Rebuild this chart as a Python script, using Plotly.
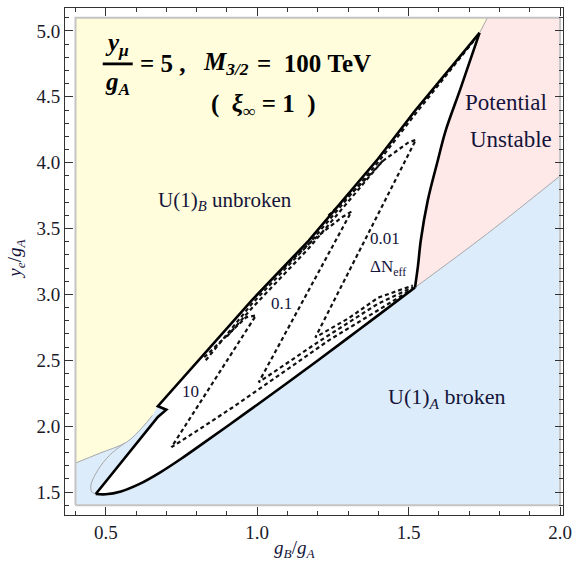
import plotly.graph_objects as go

# ---------------- data ----------------
region_x = [0.4, 2.0]
region_y = [1.4, 5.1]

# yellow / blue boundary (U(1)_B unbroken lower edge)
yb_x = [0.4, 0.48, 0.569, 0.621, 0.654]
yb_y = [1.72, 1.795, 1.879, 1.992, 2.083]

# upper boundary of allowed (white) region, from tip to top corner
up_x = [0.467, 0.672, 0.700, 0.672, 0.982, 1.170, 1.399, 1.521, 1.734]
up_y = [1.485, 2.070, 2.125, 2.152, 2.955, 3.409, 4.030, 4.394, 4.985]

# right boundary (potential unstable), top corner -> lower corner
rt_x = [1.734, 1.672, 1.622, 1.596, 1.563, 1.540, 1.531, 1.521]
rt_y = [4.985, 4.568, 4.242, 4.015, 3.712, 3.409, 3.220, 3.053]

# lower boundary, lower corner -> tip
lo_x = [1.521, 1.400, 1.300, 1.200, 1.100, 1.000, 0.900, 0.820, 0.750, 0.680, 0.610, 0.550, 0.500, 0.467]
lo_y = [3.053, 2.843, 2.670, 2.499, 2.330, 2.163, 1.998, 1.868, 1.755, 1.650, 1.560, 1.505, 1.483, 1.485]

# pink / blue boundary
pb_x = [1.521, 1.76, 2.0]
pb_y = [3.053, 3.462, 3.90]

# yellow / pink boundary
yp_x = [1.734, 1.76]
yp_y = [4.985, 5.10]

# thin gray loop
gl_x = [0.562, 0.513, 0.474, 0.451, 0.454, 0.467]
gl_y = [1.871, 1.780, 1.667, 1.553, 1.500, 1.485]

# Delta N_eff contours (dashed)
c10_x = [0.825, 0.900, 0.963, 0.996, 0.717, 0.808, 0.917, 1.071, 1.235, 1.399, 1.511]
c10_y = [2.523, 2.689, 2.826, 2.841, 1.841, 1.975, 2.140, 2.385, 2.650, 2.880, 3.040]

c01_x = [1.071, 1.186, 1.278, 1.311, 1.005, 1.202, 1.399, 1.514]
c01_y = [3.167, 3.417, 3.583, 3.629, 2.333, 2.640, 2.930, 3.055]

c001_x = [1.235, 1.334, 1.416, 1.498, 1.524, 1.192, 1.301, 1.399, 1.514]
c001_y = [3.598, 3.818, 4.015, 4.152, 4.174, 2.674, 2.818, 2.975, 3.068]

# crowded contours hugging the upper boundary
hug1_x = [0.830, 0.982, 1.170, 1.399, 1.521, 1.715]
hug1_y = [2.500, 2.928, 3.382, 4.003, 4.367, 4.925]
hug2_x = [0.900, 0.982, 1.170, 1.300, 1.420]
hug2_y = [2.680, 2.895, 3.350, 3.700, 4.030]

# contour labels
clab_text = ["10", "0.1", "0.01", "ΔN<sub>eff</sub>"]
clab_x = [0.779, 1.081, 1.422, 1.432]
clab_y = [2.265, 2.932, 3.424, 3.197]

# region labels
rlab_text = ["Potential", "Unstable", "U(1)<sub><i>B</i></sub> unbroken", "U(1)<sub><i>A</i></sub> broken"]
rlab_x = [1.823, 1.839, 0.893, 1.625]
rlab_y = [4.455, 4.174, 3.712, 2.212]
rlab_size = [23, 23, 21, 22]

x_ticks = [0.5, 1.0, 1.5, 2.0]
y_ticks = [1.5, 2.0, 2.5, 3.0, 3.5, 4.0, 4.5, 5.0]

# ---------------- colours ----------------
BLUE = "#ddecfb"
YELLOW = "#fffddb"
PINK = "#ffe8e8"
GRAY = "#a8a8a8"
TXT = "#14143a"
FONT = "Liberation Serif"

fig = go.Figure()

def poly(xs, ys, color):
    fig.add_trace(go.Scatter(x=xs, y=ys, mode="lines", fill="toself",
                             fillcolor=color, line=dict(width=0, color=color),
                             hoverinfo="skip", showlegend=False))

def line(xs, ys, color, width, dash="solid", shape="linear"):
    fig.add_trace(go.Scatter(x=xs, y=ys, mode="lines",
                             line=dict(color=color, width=width, dash=dash, shape=shape),
                             hoverinfo="skip", showlegend=False))

# blue background region
poly([region_x[0], region_x[1], region_x[1], region_x[0], region_x[0]],
     [region_y[0], region_y[0], region_y[1], region_y[1], region_y[0]], BLUE)

# yellow region
ux_main = up_x[3:]
uy_main = up_y[3:]
poly(yb_x + ux_main + [yp_x[1], region_x[0], region_x[0]],
     yb_y + uy_main + [yp_y[1], region_y[1], yb_y[0]], YELLOW)

# pink region
poly([yp_x[0], yp_x[1], region_x[1], region_x[1]] + pb_x[::-1] + rt_x[::-1],
     [yp_y[0], yp_y[1], region_y[1], pb_y[-1]] + pb_y[::-1] + rt_y[::-1], PINK)

# white allowed region
poly(up_x + rt_x[1:] + lo_x[1:], up_y + rt_y[1:] + lo_y[1:], "#ffffff")

# thin gray boundaries
line(yb_x, yb_y, GRAY, 1, shape="spline")
line(pb_x, pb_y, GRAY, 1, shape="spline")
line(yp_x, yp_y, GRAY, 1)
line(gl_x, gl_y, GRAY, 1, shape="spline")

# dashed contours
DASH = "4px,3px"
for cx, cy in [(c10_x, c10_y), (c01_x, c01_y), (c001_x, c001_y),
               (hug1_x, hug1_y), (hug2_x, hug2_y)]:
    line(cx, cy, "#111111", 2.2, DASH)

# thick black boundary of allowed region
line(up_x, up_y, "#000000", 2.6)
line(rt_x, rt_y, "#000000", 2.6, shape="spline")
line(lo_x, lo_y, "#000000", 2.6, shape="spline")

# region border
line([region_x[0], region_x[1], region_x[1], region_x[0], region_x[0]],
     [region_y[0], region_y[0], region_y[1], region_y[1], region_y[0]], "#c4c4c4", 2)

annotations = []
for t, x, y in zip(clab_text, clab_x, clab_y):
    annotations.append(dict(x=x, y=y, text=t, showarrow=False,
                            font=dict(family=FONT, size=17, color=TXT)))
for t, x, y, s in zip(rlab_text, rlab_x, rlab_y, rlab_size):
    annotations.append(dict(x=x, y=y, text=t, showarrow=False,
                            font=dict(family=FONT, size=s, color=TXT)))

TF = dict(family=FONT, size=25, color="#000000")
annotations += [
    dict(x=0.537, y=4.765, text="<b><i>y</i><sub><i>μ</i></sub></b>", showarrow=False,
         xanchor="center", yanchor="bottom", font=TF),
    dict(x=0.540, y=4.735, text="<b><i>g</i><sub><i>A</i></sub></b>", showarrow=False,
         xanchor="center", yanchor="top", font=TF),
    dict(x=0.607, y=4.75, text="<b>=&nbsp;5&nbsp;,</b>",
         showarrow=False, xanchor="left", yanchor="middle", font=TF),
    dict(x=0.814, y=4.75, text="<b><i>M</i><sub><i>3/2</i></sub></b>",
         showarrow=False, xanchor="left", yanchor="middle", font=TF),
    dict(x=0.993, y=4.75, text="<b>=&nbsp;&nbsp;100&nbsp;TeV</b>",
         showarrow=False, xanchor="left", yanchor="middle", font=TF),
    dict(x=1.022, y=4.432, text="<b>(&nbsp;&nbsp;<i>ξ</i><sub>∞</sub>&nbsp;=&nbsp;1&nbsp;&nbsp;)</b>",
         showarrow=False, xanchor="center", yanchor="middle", font=TF),
    dict(x=1.124, y=-0.068, xref="x", yref="paper", xanchor="center", yanchor="middle",
         text="<i>g</i><sub><i>B</i></sub>/<i>g</i><sub><i>A</i></sub>",
         showarrow=False, font=dict(family=FONT, size=19, color=TXT)),
    dict(x=-0.098, y=3.273, xref="paper", yref="y", xanchor="center", yanchor="middle",
         textangle=-90,
         text="<i>y</i><sub><i>e</i></sub>/<i>g</i><sub><i>A</i></sub>",
         showarrow=False, font=dict(family=FONT, size=19, color=TXT)),
]

fig.add_shape(type="line", x0=0.490, x1=0.589, y0=4.75, y1=4.75,
              line=dict(color="#000000", width=2.8))

axis_common = dict(showgrid=False, zeroline=False, showline=True, linecolor="#333333",
                   linewidth=1, mirror="allticks", ticks="inside", ticklen=8,
                   tickcolor="#333333", tickwidth=1, tickformat=".1f",
                   tickfont=dict(family=FONT, size=19, color="#1a1a2a"))

fig.update_layout(
    width=579, height=573,
    margin=dict(l=65, r=13, t=7, b=58),
    paper_bgcolor="white", plot_bgcolor="white",
    showlegend=False,
    annotations=annotations,
    xaxis=dict(range=[0.3654, 2.0096], tickvals=x_ticks,
               minor=dict(dtick=0.1, tick0=0.0, ticks="inside", ticklen=4, tickcolor="#333333"),
               **axis_common),
    yaxis=dict(range=[1.3258, 5.1742], tickvals=y_ticks,
               minor=dict(dtick=0.1, tick0=0.0, ticks="inside", ticklen=4, tickcolor="#333333"),
               **axis_common),
)

fig.write_html("out.html")
